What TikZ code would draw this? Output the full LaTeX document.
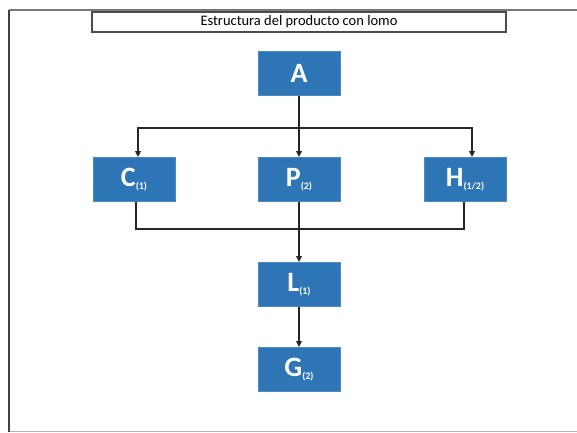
\documentclass[tikz,border=0pt]{standalone}
\usepackage{fontspec}
\setmainfont{Carlito}
\usetikzlibrary{arrows.meta}
\definecolor{boxblue}{RGB}{46,117,182}
\definecolor{framegray}{RGB}{120,120,120}
\tikzset{
  block/.style={fill=boxblue, draw=boxblue!85!white, line width=0.8pt,
    minimum width=82pt, minimum height=44pt, inner sep=0pt,
    text=white, font=\fontsize{28}{30}\selectfont\bfseries},
  link/.style={draw=black!85, line width=1.5pt},
  arrowlink/.style={link, -{Triangle[length=6pt,width=5.5pt]}}
}
\newcommand{\qty}[1]{\raisebox{-3pt}{\fontsize{10}{12}\selectfont #1}}
\begin{document}
\begin{tikzpicture}[x=1pt,y=-1pt]
  \useasboundingbox (0,0) rectangle (577,432);
  \fill[white] (0,0) rectangle (577,432);

  % page frame
  \draw[framegray, line width=2pt] (9,10) -- (578,10);
  \draw[black!30, line width=1pt] (9,431) -- (578,431);
  \draw[black!75, line width=2.6pt] (9,10) -- (9,432);

  % heading
  \node[draw=black!70, line width=1.5pt, minimum width=414pt, minimum height=20pt,
        inner sep=0pt, font=\fontsize{14.5}{16}\selectfont] (title) at (299,22)
        {Estructura del producto con lomo};

  % product structure
  \node[block] (A) at (299,73.5) {A};
  \node[block] (C) at (134,179.5) {C\qty{(1)}};
  \node[block] (P) at (299,179.5) {P\qty{(2)}};
  \node[block] (H) at (465,179.5) {H\qty{(1/2)}};
  \node[block] (L) at (299,284.5) {L\qty{(1)}};
  \node[block] (G) at (299,369.5) {G\qty{(2)}};

  \coordinate (split) at (299,128);
  \coordinate (merge) at (299,229);

  % A to its three components
  \draw[arrowlink] (A.south) -- (P.north);
  \draw[arrowlink] (split) -| ([xshift=4pt]C.north);
  \draw[arrowlink] (split) -| ([xshift=7pt]H.north);

  % components joined into L
  \draw[link] ([xshift=2pt]C.south) |- (merge) -| ([xshift=-1pt]H.south);
  \draw[arrowlink] (P.south) -- (L.north);
  \draw[arrowlink] (L.south) -- (G.north);
\end{tikzpicture}
\end{document}
